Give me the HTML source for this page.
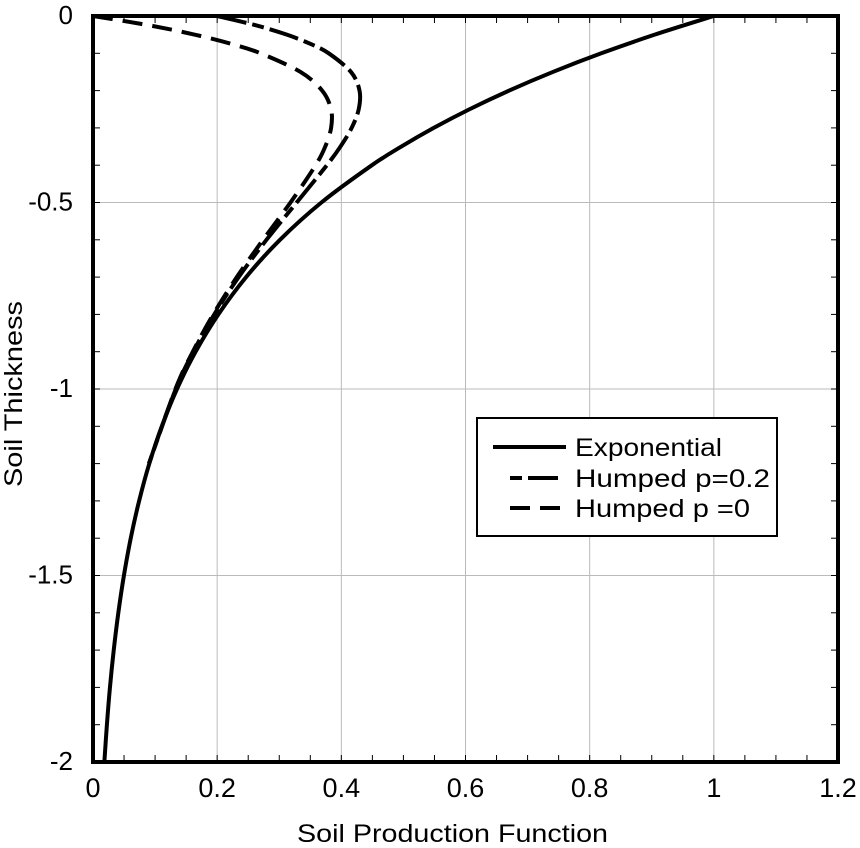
<!DOCTYPE html>
<html><head><meta charset="utf-8"><style>
body{margin:0;background:#fff}
svg{display:block;font-family:"Liberation Sans",sans-serif}
</style></head><body>
<svg id="chart" width="860" height="848" viewBox="0 0 860 848" xmlns="http://www.w3.org/2000/svg">
<g id="grid"></g>
<g id="ticks"></g>
<g id="series"></g>
<rect x="93" y="16" width="745" height="746" fill="none" stroke="#000" stroke-width="4"/>
<g id="labels"></g>
<text x="297" y="842" font-size="25" textLength="311" lengthAdjust="spacingAndGlyphs">Soil Production Function</text>
<text transform="translate(22,394) rotate(-90)" font-size="25" text-anchor="middle" textLength="186" lengthAdjust="spacingAndGlyphs">Soil Thickness</text>
<g>
<rect x="477" y="418" width="300" height="118" fill="#fff" stroke="#000" stroke-width="2"/>
<line x1="493" y1="447" x2="566" y2="447" stroke="#000" stroke-width="4"/>
<text x="575" y="456" font-size="25" textLength="147" lengthAdjust="spacingAndGlyphs">Exponential</text>
<line x1="510" y1="478" x2="562" y2="478" stroke="#000" stroke-width="4" stroke-dasharray="12,6,30,6"/>
<text x="575" y="487" font-size="25" textLength="195" lengthAdjust="spacingAndGlyphs">Humped p=0.2</text>
<line x1="510" y1="508" x2="562" y2="508" stroke="#000" stroke-width="4" stroke-dasharray="20,10"/>
<text x="575" y="517" font-size="25" textLength="175" lengthAdjust="spacingAndGlyphs">Humped p =0</text>
</g>
</svg>
<script>
const xTicks=[0,0.2,0.4,0.6,0.8,1,1.2];
const xTickLabels=["0","0.2","0.4","0.6","0.8","1","1.2"];
const yTicks=[0,-0.5,-1,-1.5,-2];
const yTickLabels=["0","-0.5","-1","-1.5","-2"];
const depthExp=[0,0.05,0.1,0.15,0.2,0.25,0.3,0.35,0.4,0.5,0.6,0.7,0.8,0.9,1.0,1.1,1.2,1.3,1.4,1.5,1.6,1.7,1.8,1.9,2.0];
const prodExp=[1,0.9048,0.8187,0.7408,0.6703,0.6065,0.5488,0.4966,0.4493,0.3679,0.3012,0.2466,0.2019,0.1653,0.1353,0.1108,0.0907,0.0743,0.0608,0.0498,0.0408,0.0334,0.0273,0.0224,0.0183];
const depthHump=[0,0.025,0.05,0.075,0.1,0.15,0.2,0.25,0.3,0.35,0.4,0.5,0.6,0.7,0.8,0.9,1.0,1.2];
const prodHumpP02=[0.2,0.2626,0.3122,0.3506,0.3797,0.4155,0.4293,0.4280,0.4166,0.3986,0.3767,0.3281,0.2794,0.2346,0.1953,0.1617,0.1333,0.0902];
const prodHumpP0=[0,0.0905,0.1640,0.2231,0.2699,0.3342,0.3691,0.3834,0.3835,0.3741,0.3586,0.3181,0.2739,0.2316,0.1937,0.1608,0.1328,0.0900];

const L=93,R=838,T=16,B=762;
const xs=v=>L+(v-0)/(1.2)*(R-L);
const ys=v=>T+(0-v)/2*(B-T);
const NS="http://www.w3.org/2000/svg";
function mk(tag,parent,attrs){const e=document.createElementNS(NS,tag);for(const k in attrs)e.setAttribute(k,attrs[k]);parent.appendChild(e);return e;}
const grid=document.getElementById('grid'),ticks=document.getElementById('ticks'),labels=document.getElementById('labels'),series=document.getElementById('series');
xTicks.forEach((v,i)=>{
  const g=mk('line',grid,{x1:xs(v),x2:xs(v),y1:T,y2:B,stroke:'#bbb','stroke-width':1});
  
  
  const t=mk('text',labels,{x:xs(v),y:797,'text-anchor':'middle','font-size':27});
  t.textContent=xTickLabels[i];
  
  
});
yTicks.forEach((v,i)=>{
  const g=mk('line',grid,{x1:L,x2:R,y1:ys(v),y2:ys(v),stroke:'#bbb','stroke-width':1});
  
  
  const t=mk('text',labels,{x:73,y:ys(v)+8,'text-anchor':'end','font-size':26});
  t.textContent=yTickLabels[i];
  
  
});
for(let k=1;k<24;k++){const x=xs(k*0.05);
  const a=mk('line',ticks,{x1:x,x2:x,y1:B,y2:B-7,stroke:'#000','stroke-width':1});
  
  
  const b=mk('line',ticks,{x1:x,x2:x,y1:T,y2:T+7,stroke:'#000','stroke-width':1});
  
  }
for(let k=1;k<20;k++){const y=ys(-k*0.1);
  const a=mk('line',ticks,{x1:L,x2:L+7,y1:y,y2:y,stroke:'#000','stroke-width':1});
  
  
  const b=mk('line',ticks,{x1:R,x2:R-7,y1:y,y2:y,stroke:'#000','stroke-width':1});
  
  }
function path(xv,dv){let p=[];
  for(let i=0;i<xv.length;i++)p.push([xs(xv[i]),ys(-dv[i])]);
  let d='M'+p[0][0]+','+p[0][1];
  for(let i=0;i<p.length-1;i++){const p0=p[Math.max(0,i-1)],p1=p[i],p2=p[i+1],p3=p[Math.min(p.length-1,i+2)];
    d+=` C${p1[0]+(p2[0]-p0[0])/6},${p1[1]+(p2[1]-p0[1])/6} ${p2[0]-(p3[0]-p1[0])/6},${p2[1]-(p3[1]-p1[1])/6} ${p2[0]},${p2[1]}`;}
  return d;}
const s1=mk('path',series,{d:path(prodHumpP0,depthHump),fill:'none',stroke:'#000','stroke-width':4,'stroke-dasharray':'20,10'});


const s2=mk('path',series,{d:path(prodHumpP02,depthHump),fill:'none',stroke:'#000','stroke-width':4,'stroke-dasharray':'30,6,12,6'});


const s3=mk('path',series,{d:path(prodExp,depthExp),fill:'none',stroke:'#000','stroke-width':4});


</script>
</body></html>
